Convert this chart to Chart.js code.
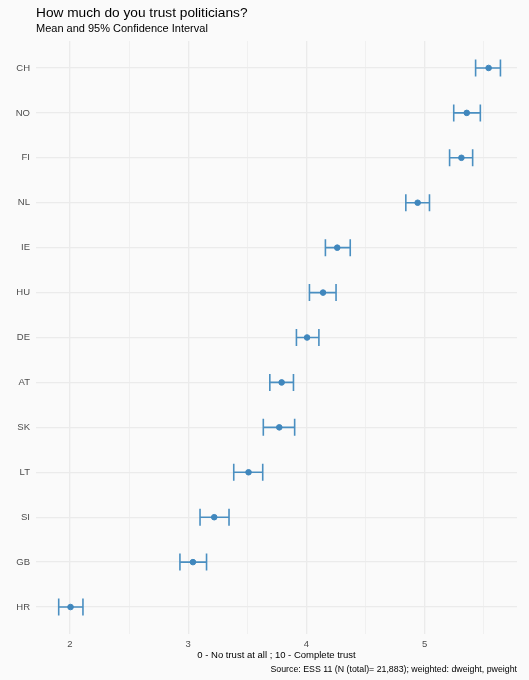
<!DOCTYPE html>
<html>
<head>
	<meta charset="utf-8">
	<script src="https://cdn.jsdelivr.net/npm/chart.js"></script>
	<title>Trust in politicians</title>
	<style>
		html, body { margin: 0; padding: 0; background: #fafafa; }
		#wrap { width: 529px; height: 680px; }
	</style>
</head>
<body>
<div id="wrap"><canvas id="grafico"></canvas></div>
<script>
	// countries, top to bottom
	const paises = ['CH', 'NO', 'FI', 'NL', 'IE', 'HU', 'DE', 'AT', 'SK', 'LT', 'SI', 'GB', 'HR'];
	const medias = [5.54, 5.355, 5.31, 4.94, 4.26, 4.14, 4.005, 3.79, 3.77, 3.51, 3.22, 3.04, 2.005];
	const limInf = [5.43, 5.245, 5.21, 4.84, 4.16, 4.025, 3.915, 3.69, 3.635, 3.385, 3.10, 2.93, 1.905];
	const limSup = [5.64, 5.47, 5.405, 5.04, 4.37, 4.25, 4.105, 3.89, 3.90, 3.63, 3.345, 3.155, 2.11];
	const ticksX = [2, 3, 4, 5];

	const titulo = 'How much do you trust politicians?';
	const subtitulo = 'Mean and 95% Confidence Interval';
	const tituloX = '0 - No trust at all ; 10 - Complete trust';
	const fuente = 'Source: ESS 11 (N (total)= 21,883); weighted: dweight, pweight';

	const azul = '#4a8fc1';
	const fontFam = '"Liberation Sans", Arial, sans-serif';

	// error bars drawn through the chart scales
	const barrasError = {
		id: 'barrasError',
		beforeDatasetsDraw(chart) {
			const { ctx, scales: { x, y } } = chart;
			ctx.save();
			ctx.strokeStyle = azul;
			ctx.lineWidth = 1.6;
			paises.forEach((p, i) => {
				const yy = y.getPixelForValue(i);
				const x1 = x.getPixelForValue(limInf[i]);
				const x2 = x.getPixelForValue(limSup[i]);
				ctx.beginPath();
				ctx.moveTo(x1, yy); ctx.lineTo(x2, yy);
				ctx.moveTo(x1, yy - 8.5); ctx.lineTo(x1, yy + 8.5);
				ctx.moveTo(x2, yy - 8.5); ctx.lineTo(x2, yy + 8.5);
				ctx.stroke();
			});
			ctx.restore();
		}
	};

	// titles and caption
	const textos = {
		id: 'textos',
		afterDraw(chart) {
			const { ctx, chartArea } = chart;
			ctx.save();
			ctx.fillStyle = '#000';
			ctx.textBaseline = 'alphabetic';
			ctx.textAlign = 'left';
			ctx.font = '13.7px ' + fontFam;
			ctx.fillText(titulo, chartArea.left, 17);
			ctx.font = '11px ' + fontFam;
			ctx.fillText(subtitulo, chartArea.left, 32);
			ctx.textAlign = 'center';
			ctx.font = '9.5px ' + fontFam;
			ctx.fillText(tituloX, (chartArea.left + chartArea.right) / 2, 658);
			ctx.textAlign = 'right';
			ctx.font = '8.8px ' + fontFam;
			ctx.fillText(fuente, chartArea.right, 672);
			ctx.restore();
		}
	};

	const ctx = document.getElementById('grafico').getContext('2d');
	new Chart(ctx, {
		type: 'scatter',
		data: {
			datasets: [{
				label: 'Mean',
				data: medias.map((m, i) => ({ x: m, y: i })),
				backgroundColor: '#4087bd',
				borderColor: '#4087bd',
				pointRadius: 2.8,
				pointHoverRadius: 2.8
			}]
		},
		options: {
			responsive: true,
			maintainAspectRatio: false,
			animation: false,
			layout: { padding: { left: 6, right: 12, top: 41, bottom: 26 } },
			plugins: {
				legend: { display: false },
				tooltip: { enabled: false }
			},
			scales: {
				x: {
					type: 'linear',
					min: 1.713,
					max: 5.78,
					border: { display: false },
					afterFit(s) { s.height = 20; },
					grid: {
						drawTicks: false,
						color: '#ebebeb',
						lineWidth: c => Number.isInteger(c.tick.value) ? 1.3 : 0.7
					},
					ticks: {
						stepSize: 0.5,
						includeBounds: false,
						autoSkip: false,
						maxRotation: 0,
						padding: 5,
						color: '#4d4d4d',
						font: { family: fontFam, size: 9.5 },
						callback: v => ticksX.includes(v) ? String(v) : ''
					}
				},
				y: {
					type: 'linear',
					reverse: true,
					min: -0.6,
					max: 12.6,
					border: { display: false },
					afterFit(s) { s.width = 30; },
					grid: { drawTicks: false, color: '#ebebeb', lineWidth: 1.3 },
					ticks: {
						stepSize: 1,
						includeBounds: false,
						autoSkip: false,
						padding: 6,
						color: '#4d4d4d',
						font: { family: fontFam, size: 9.5 },
						callback: v => paises[v] ?? ''
					}
				}
			}
		},
		plugins: [barrasError, textos]
	});
</script>
</body>
</html>
